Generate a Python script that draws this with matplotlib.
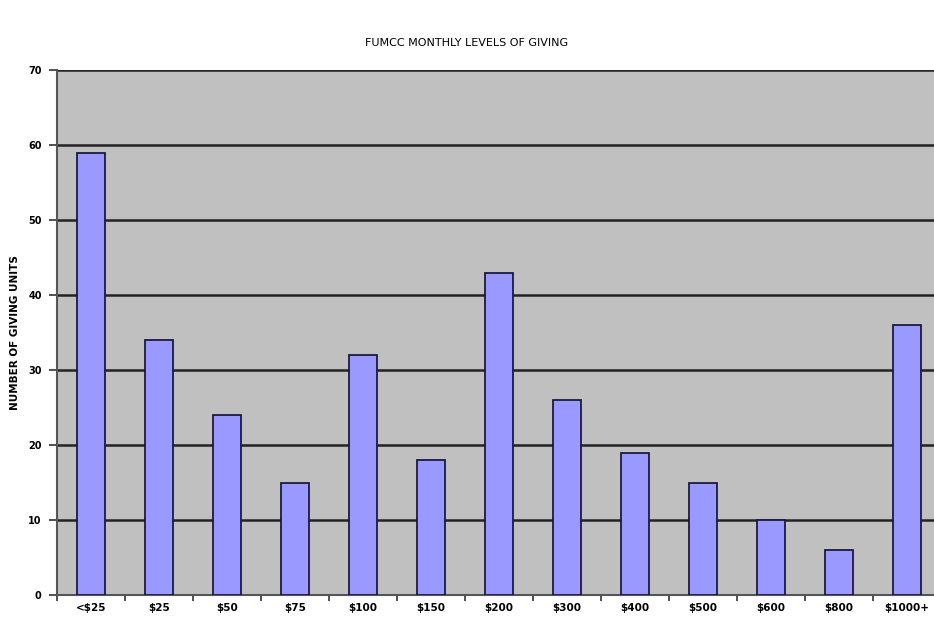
import matplotlib.pyplot as plt
import numpy as np

# Giving levels and number of giving units
levels = ['<$25', '$25', '$50', '$75', '$100', '$150', '$200',
          '$300', '$400', '$500', '$600', '$800', '$1000+']
units = [59, 34, 24, 15, 32, 18, 43, 26, 19, 15, 10, 6, 36]
y_ticks = [0, 10, 20, 30, 40, 50, 60, 70]

fig = plt.figure(figsize=(9.34, 6.19), dpi=100)
ax = fig.add_axes([57 / 934, 24 / 619, 884 / 934, 525 / 619])

x = np.arange(len(levels))
ax.set_facecolor('#c0c0c0')
ax.bar(x, units, width=0.41, color='#9999ff', edgecolor='#1a1a40',
       linewidth=1.3, zorder=3)

# Grid lines
ax.set_yticks(y_ticks)
ax.yaxis.grid(True, color='#222222', linewidth=1.8, zorder=1)
ax.set_ylim(0, 70)
ax.set_xlim(-0.5, len(levels) - 0.5)

# Category labels in the middle, ticks at the boundaries
ax.set_xticks(x)
ax.set_xticklabels(levels, fontsize=7.5, fontweight='bold')
ax.set_xticks(np.arange(len(levels) + 1) - 0.5, minor=True)
ax.tick_params(axis='x', which='major', length=0, pad=6)
ax.tick_params(axis='x', which='minor', length=4, width=1.2, color='#333333')
ax.tick_params(axis='y', length=6, width=1.2, color='#333333', labelsize=7, pad=5)
for lbl in ax.get_yticklabels():
    lbl.set_fontweight('bold')

for side in ['top', 'right']:
    ax.spines[side].set_visible(False)
ax.spines['left'].set_color('#555555')
ax.spines['left'].set_linewidth(1.5)
ax.spines['bottom'].set_color('#555555')
ax.spines['bottom'].set_linewidth(1.5)

ax.set_ylabel('NUMBER OF GIVING UNITS', fontsize=7.5, fontweight='bold', labelpad=6)
fig.text(0.5, 1 - 43 / 619, 'FUMCC MONTHLY LEVELS OF GIVING',
         ha='center', va='center', fontsize=8)

plt.savefig('out.png', dpi=100)
plt.close()
